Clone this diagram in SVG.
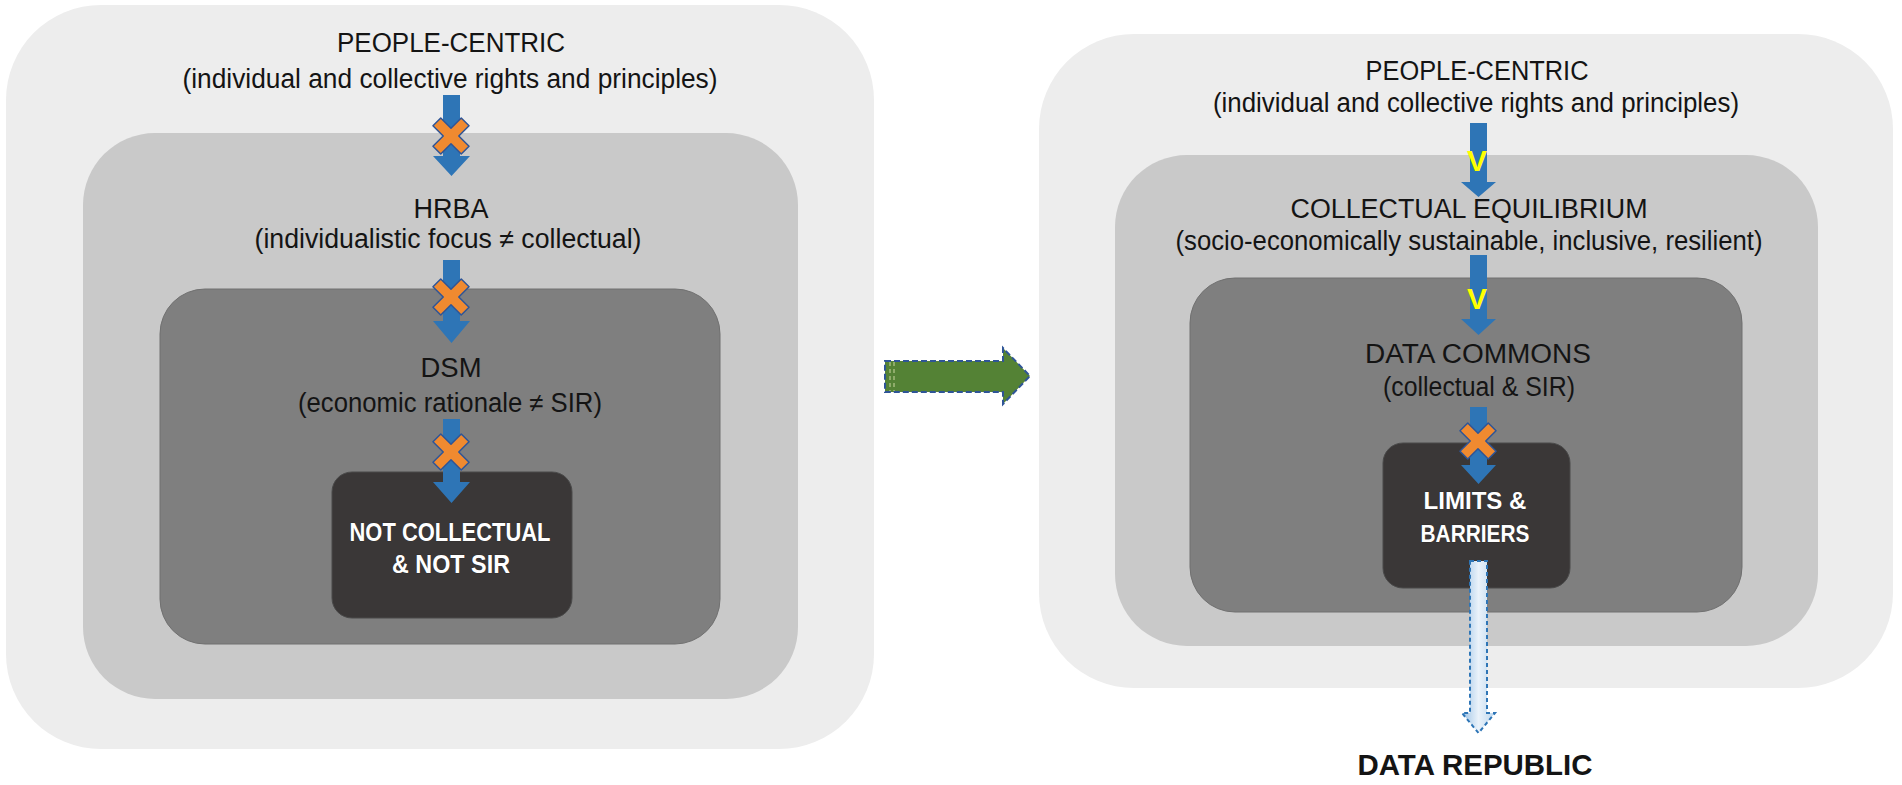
<svg xmlns="http://www.w3.org/2000/svg" width="1902" height="785" viewBox="0 0 1902 785">
<style>
.l1{fill:#EDEDED}
.l2{fill:#C9C9C9}
.l3{fill:#7F7F7F;stroke:#707070;stroke-width:1}
.l4{fill:#3A3737;stroke:#4a4a4a;stroke-width:1}
text{font-family:"Liberation Sans",Arial,sans-serif;text-anchor:middle;fill:#141414}
.t{font-size:27px}
.s{font-size:27px}
.w{font-size:25px;font-weight:bold;fill:#FFFFFF;stroke:#222;stroke-width:0.6;paint-order:stroke}
.w2{font-size:23px;font-weight:bold;fill:#FFFFFF;stroke:#222;stroke-width:0.6;paint-order:stroke}
.b{font-size:30px;font-weight:bold}
.v{font-size:30px;font-weight:bold;fill:#FFFF00}
.ar{fill:#2E75B6}
.xm{fill:#F08A30;stroke:#2F5597;stroke-width:1.5;stroke-linejoin:round}
</style>
<defs>
<path id="xmark" d="M-5.5,-20 L5.5,-20 L5.5,-5.5 L20,-5.5 L20,5.5 L5.5,5.5 L5.5,20 L-5.5,20 L-5.5,5.5 L-20,5.5 L-20,-5.5 L-5.5,-5.5 Z" transform="rotate(45)"/>
<linearGradient id="lb" x1="0" y1="0" x2="1" y2="0">
<stop offset="0" stop-color="#9DC3E6"/>
<stop offset="0.5" stop-color="#EAF2FA"/>
<stop offset="1" stop-color="#BDD7EE"/>
</linearGradient>
</defs>
<rect width="1902" height="785" fill="#FFFFFF"/>

<g id="left-people-centric">
<rect class="l1" x="6" y="5" width="868" height="744" rx="95"/>
<text class="t" x="451" y="52" textLength="228" lengthAdjust="spacingAndGlyphs">PEOPLE-CENTRIC</text>
<text class="s" x="450" y="88" textLength="535" lengthAdjust="spacingAndGlyphs">(individual and collective rights and principles)</text>
</g>
<g id="left-hrba">
<rect class="l2" x="83" y="133" width="715" height="566" rx="72"/>
<text class="t" x="451" y="218" textLength="75" lengthAdjust="spacingAndGlyphs">HRBA</text>
<text class="s" x="448" y="248" textLength="387" lengthAdjust="spacingAndGlyphs">(individualistic focus ≠ collectual)</text>
</g>
<g id="left-dsm">
<rect class="l3" x="160" y="289" width="560" height="355" rx="45"/>
<text class="t" x="451" y="377" textLength="61" lengthAdjust="spacingAndGlyphs">DSM</text>
<text class="s" x="450" y="412" textLength="304" lengthAdjust="spacingAndGlyphs">(economic rationale ≠ SIR)</text>
</g>
<g id="left-not-collectual">
<rect class="l4" x="332" y="472" width="240" height="146" rx="20"/>
<text class="w" x="450" y="541" textLength="201" lengthAdjust="spacingAndGlyphs">NOT COLLECTUAL</text>
<text class="w" x="451" y="573" textLength="118" lengthAdjust="spacingAndGlyphs">&amp; NOT SIR</text>
</g>

<g id="right-people-centric">
<rect class="l1" x="1039" y="34" width="854" height="654" rx="95"/>
<text class="t" x="1477" y="80" textLength="223" lengthAdjust="spacingAndGlyphs">PEOPLE-CENTRIC</text>
<text class="s" x="1476" y="112" textLength="526" lengthAdjust="spacingAndGlyphs">(individual and collective rights and principles)</text>
</g>
<g id="right-collectual-equilibrium">
<rect class="l2" x="1115" y="155" width="703" height="491" rx="72"/>
<text class="t" x="1469" y="218" textLength="357" lengthAdjust="spacingAndGlyphs">COLLECTUAL EQUILIBRIUM</text>
<text class="s" x="1469" y="250" textLength="587" lengthAdjust="spacingAndGlyphs">(socio-economically sustainable, inclusive, resilient)</text>
</g>
<g id="right-data-commons">
<rect class="l3" x="1190" y="278" width="552" height="334" rx="45"/>
<text class="t" x="1478" y="363" textLength="226" lengthAdjust="spacingAndGlyphs">DATA COMMONS</text>
<text class="s" x="1479" y="396" textLength="192" lengthAdjust="spacingAndGlyphs">(collectual &amp; SIR)</text>
</g>
<g id="right-limits">
<rect class="l4" x="1383" y="443" width="187" height="145" rx="20"/>
<text class="w2" x="1475" y="509" textLength="103" lengthAdjust="spacingAndGlyphs">LIMITS &amp;</text>
<text class="w2" x="1475" y="542" textLength="109" lengthAdjust="spacingAndGlyphs">BARRIERS</text>
</g>
<g id="data-republic">
<text class="b" x="1475" y="775" textLength="235" lengthAdjust="spacingAndGlyphs">DATA REPUBLIC</text>
</g>

<g id="connectors">
<!-- left column -->
<path class="ar" d="M443,95 H460 V156 H470 L451.5,176 L433,156 H443 Z"/>
<use href="#xmark" class="xm" x="451" y="136"/>
<path class="ar" d="M443,260 H460 V321 H470 L451.5,343 L433,321 H443 Z"/>
<use href="#xmark" class="xm" x="451" y="297"/>
<path class="ar" d="M443,419 H460 V482 H470 L451.5,503 L433,482 H443 Z"/>
<use href="#xmark" class="xm" x="451" y="452"/>
<!-- transition arrow -->
<path d="M885,361 H1003 V348 L1030,376 L1003,404 V392 H885 Z" fill="#548235" stroke="#2F5597" stroke-width="2" stroke-dasharray="6 3"/>
<path d="M890,362 V391 M894,362 V391" stroke="#C9D6A0" stroke-width="1" stroke-dasharray="4 3"/>
<!-- right column -->
<path class="ar" d="M1470,123 H1487 V182 H1496 L1478.5,197 L1461,182 H1470 Z"/>
<text class="v" x="1477" y="171">V</text>
<path class="ar" d="M1470,255 H1487 V319 H1496 L1478.5,335 L1461,319 H1470 Z"/>
<text class="v" x="1477" y="309">V</text>
<path class="ar" d="M1470,407 H1487 V465 H1496 L1478.5,484 L1461,465 H1470 Z"/>
<use href="#xmark" class="xm" x="1478" y="441"/>
<path d="M1470,561 H1487 V713 H1495 L1478.5,733 L1462,713 H1470 Z" fill="url(#lb)" stroke="#2E75B6" stroke-width="2" stroke-dasharray="4 3"/>
</g>
</svg>
